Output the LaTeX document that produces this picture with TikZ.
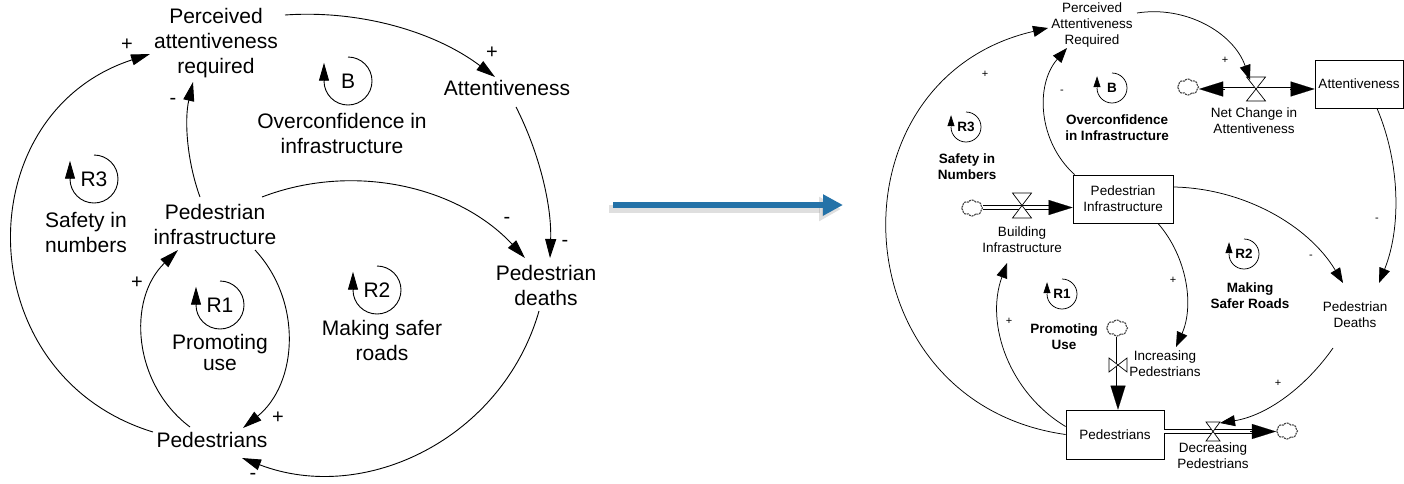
\documentclass[tikz,border=0pt]{standalone}
\usepackage{fontspec}
\setmainfont{Liberation Sans}
\usetikzlibrary{arrows.meta,shapes.symbols}

\definecolor{arrowblue}{RGB}{36,114,168}

\tikzset{
  % causal loop diagram (left)
  lbl/.style={font=\fontsize{21}{25}\selectfont, align=center, inner sep=0pt},
  sgn/.style={font=\fontsize{20}{20}\selectfont, inner sep=0pt},
  link/.style={line width=0.9pt, -{Triangle[length=19pt,width=11pt]}},
  loopline/.style={line width=0.9pt},
  looptip/.style={line width=0.9pt, -{Triangle[length=18pt,width=10pt]}},
  % stock and flow diagram (right)
  rlbl/.style={font=\fontsize{13.5}{16}\selectfont, align=center, inner sep=0pt},
  rbold/.style={font=\fontsize{13.5}{16}\selectfont\bfseries, align=center, inner sep=0pt},
  rsgn/.style={font=\fontsize{11}{11}\selectfont, inner sep=0pt},
  rlink/.style={line width=0.75pt, -{Triangle[length=15pt,width=11pt]}},
  rloopline/.style={line width=0.75pt},
  rlooptip/.style={line width=0.75pt, -{Triangle[length=11pt,width=7pt]}},
  stock/.style={draw, line width=0.8pt, fill=white, font=\fontsize{13.5}{16}\selectfont,
    align=center, inner sep=0pt},
  pipe/.style={draw, line width=0.75pt, double=white, double distance=3pt},
  flowhead/.style={line width=0.1pt, -{Triangle[length=24pt,width=15pt]}},
  valve/.style={draw, fill=white, line width=0.7pt},
  sourcesink/.style={cloud, cloud puffs=8, cloud puff arc=120, aspect=1.3,
    draw=gray!50!black, line width=1.1pt, dash pattern=on 2pt off 0.8pt,
    minimum width=21pt, minimum height=16pt, inner sep=0pt},
}

% loop marker: name, x, y, radius, text, text style, line style, tip style
\newcommand{\fbloop}[8]{%
  \node[#6] (#1) at (#2,#3) {#5};
  \draw[#7] (#2,#3+#4) arc[start angle=90,end angle=-180,radius=#4];
  \draw[#8] (#2-#4,#3+1) -- ++(0,0.72*#4);
}
% valve on a horizontal pipe (hourglass)
\newcommand{\valveh}[4]{%
  \filldraw[valve] (#1-#3/2,#2+#4/2) -- (#1+#3/2,#2+#4/2) -- (#1-#3/2,#2-#4/2) -- (#1+#3/2,#2-#4/2) -- cycle;}
% valve on a vertical pipe (bow tie)
\newcommand{\valvev}[4]{%
  \filldraw[valve] (#1-#3/2,#2+#4/2) -- (#1-#3/2,#2-#4/2) -- (#1+#3/2,#2+#4/2) -- (#1+#3/2,#2-#4/2) -- cycle;}

\begin{document}
\begin{tikzpicture}[x=1pt,y=1pt]
\useasboundingbox (0,0) rectangle (1404,-483);

%% ---------------- causal loop diagram ----------------
\node[lbl] (perc) at (216,-43) {Perceived\\attentiveness\\required};
\node[lbl] (att) at (507,-88) {Attentiveness};
\node[lbl] (pinf) at (215,-224) {Pedestrian\\infrastructure};
\node[lbl] (pdeath) at (546,-285) {Pedestrian\\deaths};
\node[lbl] (peds) at (212,-440) {Pedestrians};

\node[lbl] (nameB) at (342,-133) {Overconfidence in\\infrastructure};
\node[lbl] (nameR3) at (86,-232) {Safety in\\numbers};
\node[lbl, font=\fontsize{21}{21}\selectfont] (nameR1) at (220,-352) {Promoting\\use};
\node[lbl] (nameR2) at (382,-340) {Making safer\\roads};

\fbloop{loopB}{348}{-81}{24}{B}{lbl}{loopline}{looptip}
\fbloop{loopR3}{94}{-179}{24}{R3}{lbl}{loopline}{looptip}
\fbloop{loopR1}{220}{-305}{24}{R1}{lbl}{loopline}{looptip}
\fbloop{loopR2}{377}{-290}{24}{R2}{lbl}{loopline}{looptip}

% link end points
\coordinate (pinfN) at (200,-197);
\coordinate (percS) at (193,-82);
\coordinate (percE) at (285,-15);
\coordinate (attNW) at (495,-77);
\coordinate (attS) at (516,-107);
\coordinate (deathN) at (550,-258);
\coordinate (pinfE) at (262,-197);
\coordinate (deathNW) at (525,-258);
\coordinate (deathS) at (539,-311);
\coordinate (pedsE) at (242,-458);
\coordinate (pinfSE) at (255,-250);
\coordinate (pedsNE) at (243,-428);
\coordinate (pedsNW) at (190,-427);
\coordinate (pinfSW) at (178,-250);
\coordinate (pedsW) at (153,-432);
\coordinate (percW) at (150,-54);

\draw[link] (pinfN) to[out=110,in=-103,looseness=0.86] (percS);
\draw[link] (percE) to[out=4,in=143,looseness=0.88] (attNW);
\draw[link] (attS) to[out=-63,in=88,looseness=0.86] (deathN);
\draw[link] (pinfE) to[out=21,in=133,looseness=0.93] (deathNW);
\draw[link] (deathS) to[out=-106,in=-21,looseness=1.02] (pedsE);
\draw[link] (pinfSE) to[out=-47,in=39,looseness=1.01] (pedsNE);
\draw[link] (pedsNW) to[out=143,in=-136,looseness=1.03] (pinfSW);
\draw[link] (pedsW) to[out=163,in=-162,looseness=1.31] (percW);

\node[sgn] (s1) at (127,-45) {+};
\node[sgn] (s2) at (173,-101) {-};
\node[sgn] (s3) at (492,-53) {+};
\node[sgn] (s4) at (507,-220) {-};
\node[sgn] (s5) at (565,-243) {-};
\node[sgn] (s6) at (253,-476) {-};
\node[sgn] (s7) at (137,-283) {+};
\node[sgn] (s8) at (278,-418) {+};

%% ---------------- transition arrow ----------------
\coordinate (tfrom) at (613,-205);
\coordinate (tto) at (843,-205);
\draw[line width=8pt, gray, opacity=0.25, -{Triangle[length=22pt,width=23pt]}]
  ([shift={(-4,-4)}]tfrom) -- ([shift={(-2,-4)}]tto);
\draw[line width=6pt, arrowblue, -{Triangle[length=20pt,width=20pt]}] (tfrom) -- (tto);

%% ---------------- stock and flow diagram ----------------
\node[rlbl] (rperc) at (1092,-25) {Perceived\\Attentiveness\\Required};
\node[stock, minimum width=88pt, minimum height=48pt] (ratt) at (1359,-84) {Attentiveness};
\node[stock, minimum width=100pt, minimum height=48pt] (rpinf) at (1123,-199) {Pedestrian\\Infrastructure};
\node[stock, minimum width=98pt, minimum height=49pt] (rpeds) at (1115,-434.5) {Pedestrians};
\node[rlbl] (rdeath) at (1355,-315) {Pedestrian\\Deaths};

\node[rlbl] (rnet) at (1254,-121) {Net Change in\\Attentiveness};
\node[rlbl] (rbuild) at (1022,-240) {Building\\Infrastructure};
\node[rlbl] (rinc) at (1165,-364) {Increasing\\Pedestrians};
\node[rlbl] (rdec) at (1213,-456) {Decreasing\\Pedestrians};

\node[rbold] (rnameB) at (1117,-128) {Overconfidence\\in Infrastructure};
\node[rbold] (rnameR3) at (967,-167) {Safety in\\Numbers};
\node[rbold] (rnameR1) at (1064,-337) {Promoting\\Use};
\node[rbold] (rnameR2) at (1250,-296) {Making\\Safer Roads};

\fbloop{rloopB}{1112}{-88}{15}{B}{rbold}{rloopline}{rlooptip}
\fbloop{rloopR3}{966}{-127}{15}{R3}{rbold}{rloopline}{rlooptip}
\fbloop{rloopR1}{1062}{-294}{15}{R1}{rbold}{rloopline}{rlooptip}
\fbloop{rloopR2}{1244}{-254}{15}{R2}{rbold}{rloopline}{rlooptip}

% sources and sinks
\node[sourcesink] (cloudB) at (972,-208) {};
\node[sourcesink] (cloudN) at (1188,-87) {};
\node[sourcesink] (cloudI) at (1117,-328) {};
\node[sourcesink] (cloudD) at (1287,-431) {};

% Building Infrastructure
\draw[pipe] (cloudB.east |- 0,-207.5) -- (1051,-207.5);
\draw[flowhead] (1049,-207.5) -- (rpinf.west |- 0,-207.5);
\valveh{1022}{-205.5}{19}{25}

% Net Change in Attentiveness
\draw[pipe] (1222,-89) -- (1292,-89);
\draw[flowhead] (1225,-89) -- (cloudN.east |- 0,-89);
\draw[flowhead] (1290,-89) -- (ratt.west |- 0,-89);
\valveh{1256}{-89}{19}{24}

% Increasing Pedestrians
\draw[pipe] (cloudI.south -| 1118,0) -- (1118,-388);
\draw[flowhead] (1118,-386) -- (1118,0 |- rpeds.north);
\valvev{1118}{-365}{18}{14}

% Decreasing Pedestrians
\draw[pipe] (rpeds.east |- 0,-431.5) -- (1252,-431.5);
\draw[flowhead] (1250,-431.5) -- (cloudD.west |- 0,-431.5);
\valveh{1213}{-431.5}{14}{19}

% information links
\coordinate (rpercW) at (1048,-28);
\coordinate (rpercS) at (1067,-48);
\coordinate (rpercE) at (1137,-13);
\coordinate (rnetV) at (1250,-80);
\coordinate (rbuildS) at (1007,-263);
\coordinate (rincW) at (1176,-347);
\coordinate (rdeathN) at (1343,-283);
\coordinate (rdeathNE) at (1379,-283);
\coordinate (rdeathS) at (1333,-348);
\coordinate (rdecV) at (1220,-423);

\draw[rlink] (rpeds.west) to[out=172,in=-167,looseness=1.44] (rpercW);
\draw[rlink] ([yshift=8]rpeds.west) to[out=149,in=-110,looseness=0.96] (rbuildS);
\draw[rlink] ([xshift=2]rpinf.north west) to[out=138,in=-131,looseness=0.99] (rpercS);
\draw[rlink] (rpercE) to[out=9,in=109,looseness=0.97] (rnetV);
\draw[rlink] (ratt.south -| 1377,0) to[out=-67,in=68,looseness=0.87] (rdeathNE);
\draw[rlink] ([yshift=12]rpinf.east) to[out=-1,in=121,looseness=0.9] (rdeathN);
\draw[rlink] ([xshift=35]rpinf.south) to[out=-49,in=66,looseness=0.92] (rincW);
\draw[rlink] (rdeathS) to[out=-125,in=9,looseness=0.9] (rdecV);

\node[rsgn] (rs1) at (985,-74) {+};
\node[rsgn] (rs2) at (1062,-92) {-};
\node[rsgn] (rs3) at (1225,-60) {+};
\node[rsgn] (rs4) at (1377,-220) {-};
\node[rsgn] (rs5) at (1311,-257) {-};
\node[rsgn] (rs6) at (1173,-280) {+};
\node[rsgn] (rs7) at (1009,-321) {+};
\node[rsgn] (rs8) at (1278,-383) {+};

\end{tikzpicture}
\end{document}
